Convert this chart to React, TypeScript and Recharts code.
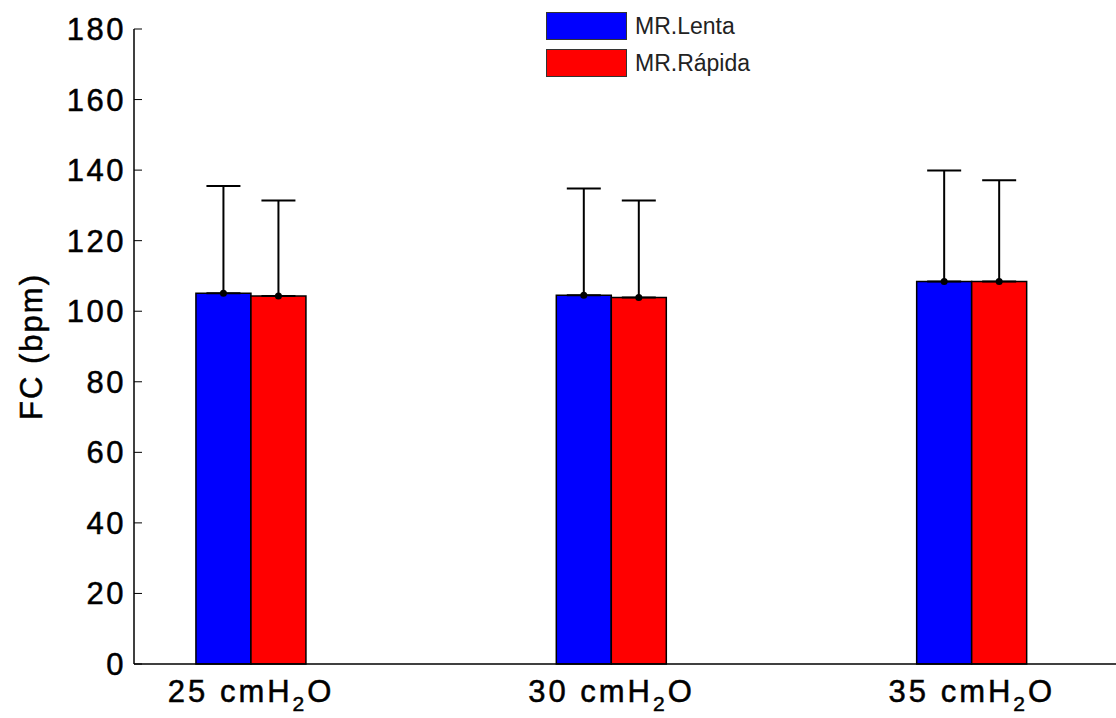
import { BarChart, Bar, XAxis, YAxis, ErrorBar, LabelList, Legend } from 'recharts'

// FC per pressure level, mean and SD (bpm)
const pressures = ['25', '30', '35']
const lentaMean = [105.1, 104.5, 108.4]
const lentaSd = [30.4, 30.3, 31.5]
const rapidaMean = [104.3, 103.9, 108.4]
const rapidaSd = [27.1, 27.5, 28.7]
const yTicks = [0, 20, 40, 60, 80, 100, 120, 140, 160, 180]

const series = [
    { key: 'lenta', name: 'MR.Lenta', color: '#0000ff' },
    { key: 'rapida', name: 'MR.Rápida', color: '#ff0000' },
]

const data = pressures.map((p, i) => ({
    pos: i + 1,
    label: p,
    lenta: lentaMean[i],
    lentaErr: [0, lentaSd[i]],
    rapida: rapidaMean[i],
    rapidaErr: [0, rapidaSd[i]],
}))

const FONT = '"Liberation Sans", Arial, Helvetica, sans-serif'

const YTick = (props: any) => {
    const { x, y, payload } = props
    return (
        <g>
            <line x1={x} y1={y} x2={x + 8} y2={y} stroke="#000" strokeWidth={1} />
            <text x={x - 8} y={y} dy={11} textAnchor="end" fontSize={31} letterSpacing={2.5}
                fontFamily={FONT} fill="#000" stroke="#000" strokeWidth={0.5}>{payload.value}</text>
        </g>
    )
}

const XTick = (props: any) => {
    const { x, y, payload } = props
    const d = data.find((r) => r.pos === payload.value)
    return (
        <text x={x} y={y} dy={30} textAnchor="middle" fontSize={31} letterSpacing={3}
            fontFamily={FONT} fill="#000" stroke="#000" strokeWidth={0.5}>
            {d ? d.label : ''} cmH
            <tspan fontSize={21} dy={9}>2</tspan>
            <tspan dy={-9}>O</tspan>
        </text>
    )
}

const TopDot = (props: any) => {
    const { x, y, width } = props
    return <circle cx={x + width / 2} cy={y} r={3.5} fill="#000" />
}

const LegendBox = () => (
    <div style={{ fontFamily: FONT, fontSize: 23, lineHeight: '28px' }}>
        {series.map((s) => (
            <div key={s.key} style={{ display: 'flex', alignItems: 'center', marginBottom: 9 }}>
                <div style={{
                    width: 79, height: 26, background: s.color,
                    border: '1px solid #333', marginRight: 8,
                }} />
                <span style={{ color: '#222' }}>{s.name}</span>
            </div>
        ))}
    </div>
)

export default function App() {
    return (
        <div style={{ position: 'absolute', left: 0, top: 0, width: 1116, height: 718, background: '#fff' }}>
            <BarChart
                width={1116}
                height={718}
                data={data}
                margin={{ top: 29, right: 0, bottom: 0, left: 0 }}
                barGap={0}
            >
                <XAxis
                    type="number"
                    dataKey="pos"
                    domain={[0.675, 3.4]}
                    ticks={[1, 2, 3]}
                    allowDataOverflow
                    tickLine={false}
                    axisLine={{ stroke: '#000', strokeWidth: 1.5 }}
                    tick={<XTick />}
                    height={54}
                />
                <YAxis
                    domain={[0, 180]}
                    ticks={yTicks}
                    width={134}
                    tickSize={0}
                    tickMargin={0}
                    tickLine={false}
                    axisLine={{ stroke: '#000', strokeWidth: 1.5 }}
                    tick={<YTick />}
                    label={{
                        value: 'FC (bpm)', angle: -90, position: 'insideLeft', offset: 31,
                        style: {
                            fontFamily: FONT, fontSize: 31, letterSpacing: 2, fill: '#000',
                            stroke: '#000', strokeWidth: 0.5, textAnchor: 'middle',
                        },
                    }}
                />
                <Legend
                    content={<LegendBox />}
                    layout="horizontal"
                    verticalAlign="middle"
                    align="center"
                    wrapperStyle={{ position: 'absolute', left: 546, top: 12, width: 'auto' }}
                />
                {series.map((s) => (
                    <Bar
                        key={s.key}
                        dataKey={s.key}
                        name={s.name}
                        fill={s.color}
                        stroke="#000"
                        strokeWidth={1.5}
                        barSize={55}
                        isAnimationActive={false}
                    >
                        <ErrorBar dataKey={s.key + 'Err'} direction="y" width={17} stroke="#000" strokeWidth={2} />
                        <LabelList dataKey={s.key} content={<TopDot />} />
                    </Bar>
                ))}
            </BarChart>
        </div>
    )
}
